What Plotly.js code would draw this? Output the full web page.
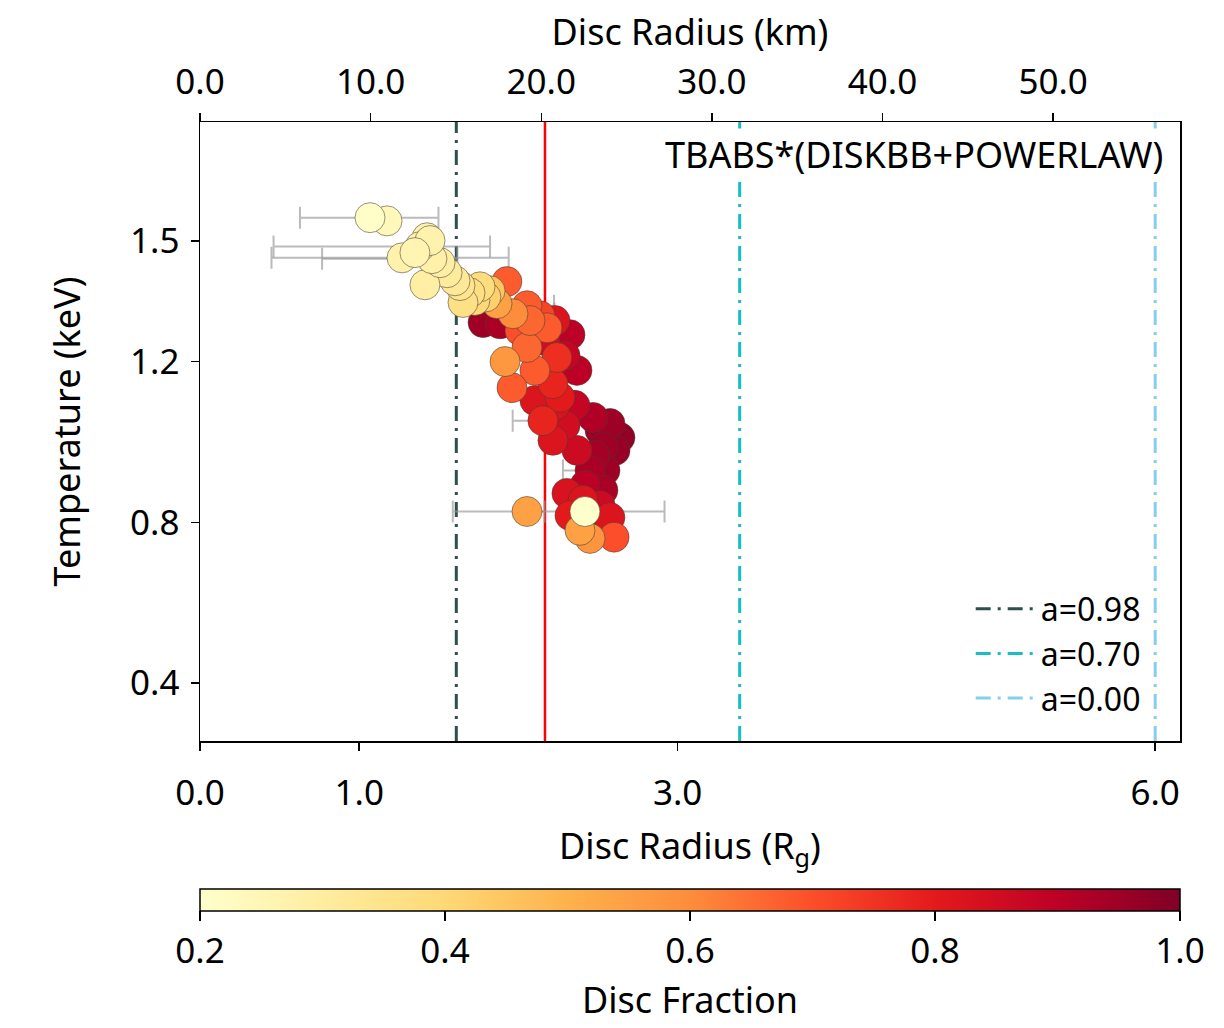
<!DOCTYPE html>
<html>
<head>
<meta charset="utf-8">
<script src="https://cdn.plot.ly/plotly-3.0.1.min.js"></script>
<style>
  html, body { margin: 0; padding: 0; background: #fff; }
  #chart { width: 1224px; height: 1028px; }
</style>
</head>
<body>
<div id="chart"></div>
<script>
// disc radius (R_g), temperature (keV), disc fraction, x errors (R_g)
const discRadius = [1.068, 1.175, 1.426, 1.382, 1.407, 1.269, 1.457, 1.413, 1.508, 1.552,
  1.633, 1.696, 1.759, 1.796, 1.652, 1.866, 1.928, 1.966, 1.778, 1.884,
  2.054, 2.136, 2.180, 2.324, 2.054, 1.916, 2.104, 2.242, 2.368, 1.960,
  2.217, 2.261, 2.154, 2.217, 2.368, 2.469, 2.575, 2.638, 2.531, 2.450,
  2.531, 2.305, 2.406, 2.575, 2.054, 2.418, 2.387, 2.450, 2.601, 2.167,
  2.293, 2.230, 2.355, 2.293, 2.513, 2.607, 2.481, 2.544, 2.418, 2.513,
  2.324, 2.481, 2.104, 2.010, 2.073, 1.602, 1.727, 1.822, 1.350, 1.445, 2.230];
const temperature = [1.558, 1.550, 1.508, 1.486, 1.478, 1.458, 1.456, 1.391, 1.446, 1.421,
  1.389, 1.371, 1.386, 1.361, 1.347, 1.344, 1.399, 1.319, 1.297, 1.294,
  1.339, 1.314, 1.284, 1.267, 1.235, 1.200, 1.178, 1.210, 1.178, 1.135,
  1.145, 1.111, 1.053, 1.004, 0.979, 1.061, 1.046, 1.011, 0.986, 0.929,
  0.880, 0.872, 0.855, 0.812, 0.827, 0.827, 0.780, 0.760, 0.763, 1.252,
  1.215, 1.091, 1.091, 1.041, 1.029, 0.979, 0.966, 0.929, 0.892, 0.842,
  0.817, 0.793, 1.103, 1.277, 1.302, 1.401, 1.352, 1.376, 1.471, 1.501, 1.302];
const discFraction = [0.21, 0.24, 0.27, 0.27, 0.28, 0.27, 0.28, 0.29, 0.29, 0.31,
  0.34, 0.37, 0.38, 0.42, 0.36, 0.55, 0.68, 0.60, 0.95, 0.93,
  0.68, 0.72, 0.68, 0.90, 0.66, 0.57, 0.68, 0.76, 0.90, 0.68,
  0.78, 0.80, 0.78, 0.82, 0.86, 0.92, 0.95, 0.97, 0.95, 0.93,
  0.93, 0.83, 0.82, 0.82, 0.55, 0.20, 0.55, 0.58, 0.70, 0.85,
  0.88, 0.83, 0.88, 0.85, 0.96, 0.96, 0.94, 0.95, 0.90, 0.86,
  0.80, 0.85, 0.82, 0.70, 0.66, 0.32, 0.40, 0.45, 0.26, 0.27, 0.82];
const errMinus = [0.44, 0.05, 0.06, 0.92, 0.06, 0.82, 0.69, 0.06, 0.05, 0.05,
  0.05, 0.05, 0.05, 0.05, 0.05, 0.05, 0.05, 0.05, 0.04, 0.04,
  0.05, 0.04, 0.04, 0.04, 0.05, 0.05, 0.04, 0.04, 0.04, 0.05,
  0.04, 0.04, 0.19, 0.04, 0.04, 0.04, 0.03, 0.03, 0.03, 0.17,
  0.03, 0.04, 0.04, 0.04, 0.06, 0.83, 0.05, 0.05, 0.04, 0.04,
  0.04, 0.04, 0.04, 0.04, 0.03, 0.03, 0.03, 0.03, 0.04, 0.04,
  0.04, 0.04, 0.04, 0.04, 0.05, 0.05, 0.05, 0.05, 0.06, 0.06, 0.04];
const errPlus = [0.43, 0.05, 0.06, 0.44, 0.06, 0.67, 0.16, 0.06, 0.05, 0.05,
  0.05, 0.05, 0.05, 0.05, 0.05, 0.05, 0.05, 0.26, 0.04, 0.04,
  0.17, 0.04, 0.04, 0.04, 0.05, 0.05, 0.04, 0.04, 0.04, 0.05,
  0.04, 0.04, 0.06, 0.04, 0.04, 0.04, 0.03, 0.03, 0.03, 0.05,
  0.03, 0.04, 0.04, 0.04, 0.11, 0.50, 0.05, 0.05, 0.04, 0.04,
  0.04, 0.04, 0.04, 0.04, 0.03, 0.03, 0.03, 0.03, 0.04, 0.04,
  0.04, 0.04, 0.04, 0.04, 0.05, 0.05, 0.05, 0.05, 0.06, 0.06, 0.04];

// ISCO radii for the spins, and the fitted radius (red line)
const spinLabels = ['a=0.98', 'a=0.70', 'a=0.00'];
const iscoRadius = [1.61, 3.39, 6.00];
const spinColors = ['#2f4f4f', '#17bfbf', '#87ceeb'];
const fitRadius = 2.167;

const kmPerRg = 9.33;
const xMax = 6.156;
const yRange = [0.256, 1.796];

const bottomTicks = [0, 1, 3, 6];
const topTicks = [0, 10, 20, 30, 40, 50];
const tempTicks = [0.4, 0.8, 1.2, 1.5];
const fracTicks = [0.2, 0.4, 0.6, 0.8, 1.0];

const ylorrd = [
  [0.0, '#ffffcc'], [0.125, '#ffeda0'], [0.25, '#fed976'], [0.375, '#feb24c'],
  [0.5, '#fd8d3c'], [0.625, '#fc4e2a'], [0.75, '#e31a1c'], [0.875, '#bd0026'], [1.0, '#800026']
];

const font = 'Noto Sans, Open Sans, sans-serif';
const tickFont = { family: font, size: 35, color: '#000' };
const titleFont = { family: font, size: 36, color: '#000' };

// draw darker points first so pale ones end up on top
const order = discFraction.map((f, i) => i).sort((a, b) => discFraction[b] - discFraction[a]);
const pick = arr => order.map(i => arr[i]);

var data = [];

spinLabels.forEach((name, i) => {
  data.push({
    x: [iscoRadius[i], iscoRadius[i]],
    y: yRange,
    mode: 'lines',
    type: 'scatter',
    name: name,
    line: { color: spinColors[i], width: 3, dash: '15px,7px,3px,7px' },
    hoverinfo: 'skip'
  });
});

data.push({
  x: [fitRadius, fitRadius],
  y: yRange,
  mode: 'lines',
  type: 'scatter',
  showlegend: false,
  line: { color: '#ff0000', width: 2.5 },
  hoverinfo: 'skip'
});

data.push({
  x: pick(discRadius),
  y: pick(temperature),
  mode: 'markers',
  type: 'scatter',
  showlegend: false,
  error_x: {
    type: 'data',
    symmetric: false,
    array: pick(errPlus),
    arrayminus: pick(errMinus),
    color: 'rgba(150,150,150,0.65)',
    thickness: 2,
    width: 11
  },
  marker: {
    size: 30,
    color: pick(discFraction),
    colorscale: ylorrd,
    cmin: 0.2,
    cmax: 1.0,
    line: { color: 'rgba(70,60,50,0.7)', width: 0.8 },
    colorbar: {
      orientation: 'h',
      x: 0.5,
      xanchor: 'center',
      y: -0.239,
      yanchor: 'top',
      yref: 'paper',
      len: 1,
      lenmode: 'fraction',
      thickness: 22,
      xpad: 0,
      ypad: 0,
      outlinewidth: 1.5,
      outlinecolor: '#000',
      ticks: 'outside',
      ticklen: 10,
      tickwidth: 1.5,
      tickcolor: '#000',
      tickvals: fracTicks,
      tickformat: '.1f',
      tickfont: tickFont,
      title: { text: 'Disc Fraction', side: 'bottom', font: titleFont }
    }
  }
});

// empty trace so the km axis is drawn on top
data.push({ x: [], y: [], xaxis: 'x2', yaxis: 'y', type: 'scatter', showlegend: false });

const layout = {
  width: 1224,
  height: 1028,
  margin: { l: 200, r: 44, t: 122, b: 287, autoexpand: false },
  paper_bgcolor: '#fff',
  plot_bgcolor: '#fff',
  font: { family: font, color: '#000' },
  xaxis: {
    range: [0, xMax],
    tickvals: bottomTicks,
    tickformat: '.1f',
    ticks: 'outside',
    ticklen: 8,
    tickwidth: 1.5,
    tickcolor: '#000',
    ticklabelstandoff: 12,
    showline: true,
    linecolor: '#000',
    linewidth: 1.5,
    showgrid: false,
    zeroline: false,
    tickfont: tickFont,
    title: { text: 'Disc Radius (R<sub>g</sub>)', font: titleFont, standoff: 20 }
  },
  xaxis2: {
    overlaying: 'x',
    side: 'top',
    anchor: 'y',
    range: [0, xMax * kmPerRg],
    tickvals: topTicks,
    tickformat: '.1f',
    ticks: 'outside',
    ticklen: 8,
    tickwidth: 1.5,
    tickcolor: '#000',
    ticklabelstandoff: 5,
    showline: true,
    linecolor: '#000',
    linewidth: 1.5,
    showgrid: false,
    zeroline: false,
    tickfont: tickFont,
    title: { text: 'Disc Radius (km)', font: titleFont, standoff: 0 }
  },
  yaxis: {
    range: yRange,
    tickvals: tempTicks,
    tickformat: '.1f',
    ticks: 'outside',
    ticklen: 8,
    tickwidth: 1.5,
    tickcolor: '#000',
    ticklabelstandoff: 4,
    showline: true,
    mirror: true,
    linecolor: '#000',
    linewidth: 1.5,
    showgrid: false,
    zeroline: false,
    tickfont: tickFont,
    title: { text: 'Temperature (keV)', font: titleFont, standoff: 38 }
  },
  legend: {
    x: 0.965,
    xanchor: 'right',
    y: 0.025,
    yanchor: 'bottom',
    bgcolor: 'rgba(0,0,0,0)',
    font: { family: font, size: 32, color: '#000' },
    itemwidth: 60,
    tracegroupgap: 0
  },
  annotations: [{
    text: 'TBABS*(DISKBB+POWERLAW)',
    xref: 'paper',
    yref: 'paper',
    x: 0.985,
    y: 0.947,
    xanchor: 'right',
    yanchor: 'middle',
    showarrow: false,
    bgcolor: '#fff',
    font: titleFont
  }]
};

Plotly.newPlot('chart', data, layout, { displayModeBar: false, staticPlot: true });
</script>
</body>
</html>
